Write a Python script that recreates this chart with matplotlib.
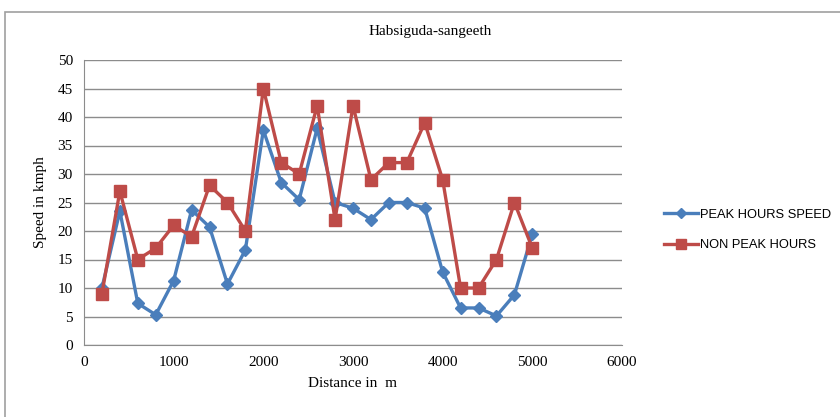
import matplotlib
matplotlib.use("Agg")
import matplotlib.pyplot as plt
from matplotlib.patches import Rectangle
from matplotlib.lines import Line2D

distance = [200, 400, 600, 800, 1000, 1200, 1400, 1600, 1800, 2000, 2200, 2400, 2600,
            2800, 3000, 3200, 3400, 3600, 3800, 4000, 4200, 4400, 4600, 4800, 5000]
peak_speed = [10, 23.5, 7.3, 5.3, 11.3, 23.7, 20.7, 10.7, 16.7, 37.7, 28.5, 25.5, 38,
              25, 24, 22, 25, 25, 24, 12.8, 6.5, 6.5, 5.1, 8.8, 19.5]
nonpeak_speed = [9, 27, 15, 17, 21, 19, 28, 25, 20, 45, 32, 30, 42,
                 22, 42, 29, 32, 32, 39, 29, 10, 10, 15, 25, 17]
x_ticks = [0, 1000, 2000, 3000, 4000, 5000, 6000]
y_ticks = [0, 5, 10, 15, 20, 25, 30, 35, 40, 45, 50]

serif = "Liberation Serif"
blue = "#4A7EBB"
red = "#BE4B48"
grid_c = "#8C8C8C"

fig = plt.figure(figsize=(8.4, 4.17), dpi=100)
fig.patch.set_facecolor("white")

# outer chart frame
fig.patches.append(Rectangle((5/840, -0.05), 2.0, 1 - 12/417 + 0.05, transform=fig.transFigure,
                             fill=False, edgecolor="#A0A0A0", linewidth=1.2))

ax = fig.add_axes([84/840, 1 - 345/417, (622 - 84)/840, (345 - 60)/417])
ax.plot(distance, peak_speed, color=blue, linewidth=2.4, marker="D", markersize=6.5,
        label="PEAK HOURS SPEED", zorder=3)
ax.plot(distance, nonpeak_speed, color=red, linewidth=2.4, marker="s", markersize=8,
        label="NON PEAK HOURS", zorder=4)

ax.set_xlim(0, 6000)
ax.set_ylim(0, 50)
ax.set_xticks(x_ticks)
ax.set_yticks(y_ticks)
ax.yaxis.grid(True, color=grid_c, linewidth=1)
ax.set_axisbelow(True)
for s in ["top", "right"]:
    ax.spines[s].set_visible(False)
for s in ["left", "bottom"]:
    ax.spines[s].set_color(grid_c)
ax.tick_params(axis="both", length=0, labelsize=11, pad=8)
for lab in ax.get_xticklabels() + ax.get_yticklabels():
    lab.set_fontfamily(serif)

ax.set_xlabel("Distance in  m", fontfamily=serif, fontsize=11, labelpad=6)
ax.set_ylabel("Speed in kmph", fontfamily=serif, fontsize=11, labelpad=8)
fig.text(430/840, 1 - 32/417, "Habsiguda-sangeeth", fontfamily=serif, fontsize=11,
         ha="center", va="center")

handles = [Line2D([], [], color=blue, linewidth=2.4, marker="D", markersize=5.5),
           Line2D([], [], color=red, linewidth=2.4, marker="s", markersize=7)]
fig.legend(handles, ["PEAK HOURS SPEED", "NON PEAK HOURS"], loc="center left",
           bbox_to_anchor=(664/840, 1 - 230/417), frameon=False,
           prop={"family": "Liberation Sans", "size": 9.3}, handlelength=2.6,
           handletextpad=0.15, labelspacing=1.45, borderpad=0, borderaxespad=0)

fig.savefig("out.png", dpi=100)
